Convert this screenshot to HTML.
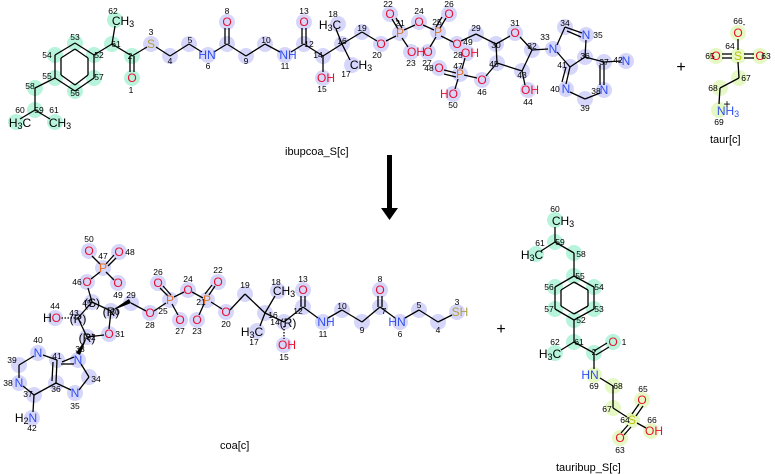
<!DOCTYPE html>
<html><head><meta charset="utf-8"><style>
html,body{margin:0;padding:0;background:#fff}
svg{display:block}
text{font-family:"Liberation Sans","DejaVu Sans",sans-serif}
.a{font-size:12px;text-anchor:middle;dominant-baseline:central}
.n{font-size:8.5px;fill:#000;text-anchor:middle;dominant-baseline:central}
.O{fill:#e8102f}.N{fill:#2f4ff0}.P{fill:#e07020}.S{fill:#b0a040}.Sy{fill:#c0c000}.C{fill:#000}
.b{fill:#d6d6fb}.g{fill:#b8f4dc}.y{fill:#e6f8c4}
line{stroke:#000;stroke-width:1.3}
.lbl{font-size:11px;fill:#000}
</style></head><body>
<svg width="775" height="474" viewBox="0 0 775 474" xmlns="http://www.w3.org/2000/svg">
<!-- highlights top molecule -->
<g class="g">
<circle cx="115" cy="20" r="8"/><circle cx="112" cy="44" r="8"/><circle cx="132" cy="56" r="8"/><circle cx="132" cy="78" r="8"/>
<circle cx="75" cy="43" r="8"/><circle cx="55" cy="55" r="8"/><circle cx="55" cy="78" r="8"/><circle cx="75" cy="91" r="8"/><circle cx="94" cy="78" r="8"/><circle cx="94" cy="55" r="8"/>
<circle cx="35" cy="88" r="8"/><circle cx="35" cy="110" r="8"/><circle cx="16" cy="122" r="8"/><circle cx="55" cy="122" r="8"/>
</g>
<g class="b">
<circle cx="151" cy="44" r="8"/><circle cx="170" cy="56" r="8"/><circle cx="189" cy="44" r="8"/><circle cx="208" cy="55" r="8"/><circle cx="227" cy="44" r="8"/><circle cx="227" cy="22" r="8"/><circle cx="246" cy="56" r="8"/><circle cx="265" cy="44" r="8"/><circle cx="285" cy="55" r="8"/><circle cx="304" cy="44" r="8"/><circle cx="304" cy="22" r="8"/><circle cx="323" cy="56" r="8"/><circle cx="323" cy="78" r="8"/><circle cx="342" cy="44" r="8"/><circle cx="338" cy="24" r="8"/><circle cx="352" cy="65" r="8"/><circle cx="362" cy="32" r="8"/><circle cx="381" cy="44" r="8"/>
<circle cx="390" cy="14" r="8"/><circle cx="400" cy="33" r="8"/><circle cx="419" cy="22" r="8"/><circle cx="438" cy="32" r="8"/><circle cx="449" cy="14" r="8"/><circle cx="411" cy="52" r="8"/><circle cx="428" cy="52" r="8"/><circle cx="457" cy="44" r="8"/><circle cx="476" cy="34" r="8"/><circle cx="496" cy="44" r="8"/><circle cx="515" cy="33" r="8"/><circle cx="532" cy="50" r="8"/><circle cx="497" cy="63" r="8"/><circle cx="522" cy="71" r="8"/><circle cx="528" cy="90" r="8"/><circle cx="482" cy="80" r="8"/><circle cx="460" cy="74" r="8"/><circle cx="439" cy="68" r="8"/><circle cx="467" cy="53" r="8"/><circle cx="453" cy="94" r="8"/>
<circle cx="553" cy="49" r="8"/><circle cx="565" cy="27" r="8"/><circle cx="586" cy="35" r="8"/><circle cx="585" cy="57" r="8"/><circle cx="604" cy="62" r="8"/><circle cx="626" cy="61" r="8"/><circle cx="604" cy="90" r="8"/><circle cx="585" cy="99" r="8"/><circle cx="566" cy="89" r="8"/><circle cx="570" cy="67" r="8"/>
</g>
<g class="y">
<circle cx="738" cy="33" r="8"/><circle cx="738" cy="56" r="8"/><circle cx="716" cy="56" r="8"/><circle cx="760" cy="56" r="8"/><circle cx="739" cy="78" r="8"/><circle cx="720" cy="88" r="8"/><circle cx="719" cy="110" r="8"/>
</g>
<!-- bonds top -->
<g>
<line x1="115" y1="26" x2="112" y2="44"/><line x1="112" y1="44" x2="94" y2="55"/><line x1="112" y1="44" x2="132" y2="56"/>
<line x1="130" y1="56" x2="130" y2="72"/><line x1="134" y1="56" x2="134" y2="72"/>
<line x1="132" y1="56" x2="147" y2="47"/><line x1="156" y1="47" x2="170" y2="56"/><line x1="170" y1="56" x2="189" y2="44"/><line x1="189" y1="44" x2="202" y2="52"/><line x1="214" y1="52" x2="227" y2="44"/>
<line x1="225" y1="44" x2="225" y2="28"/><line x1="229" y1="44" x2="229" y2="28"/>
<line x1="227" y1="44" x2="246" y2="56"/><line x1="246" y1="56" x2="265" y2="44"/><line x1="265" y1="44" x2="280" y2="52"/><line x1="291" y1="52" x2="304" y2="44"/>
<line x1="302" y1="44" x2="302" y2="28"/><line x1="306" y1="44" x2="306" y2="28"/>
<line x1="304" y1="44" x2="323" y2="56"/><line x1="323" y1="56" x2="323" y2="72"/><line x1="323" y1="56" x2="342" y2="44"/>
<line x1="342" y1="44" x2="336" y2="29"/><line x1="342" y1="44" x2="350" y2="60"/><line x1="342" y1="44" x2="362" y2="32"/><line x1="362" y1="32" x2="377" y2="41"/>
<line x1="386" y1="41" x2="396" y2="36"/><line x1="398" y1="29" x2="392" y2="19"/><line x1="402" y1="28" x2="396" y2="18"/>
<line x1="402" y1="38" x2="408" y2="47"/><line x1="404" y1="30" x2="415" y2="25"/><line x1="423" y1="25" x2="434" y2="30"/>
<line x1="440" y1="28" x2="446" y2="18"/><line x1="436" y1="27" x2="442" y2="17"/><line x1="436" y1="37" x2="430" y2="47"/><line x1="441" y1="36" x2="453" y2="42"/>
<line x1="461" y1="41" x2="476" y2="34"/><line x1="476" y1="34" x2="496" y2="44"/><line x1="496" y1="44" x2="510" y2="36"/><line x1="520" y1="37" x2="532" y2="50"/>
<line x1="532" y1="50" x2="522" y2="71"/><line x1="522" y1="71" x2="497" y2="63"/><line x1="497" y1="63" x2="496" y2="44"/><line x1="522" y1="71" x2="525" y2="85"/>
<line x1="497" y1="63" x2="486" y2="76"/><line x1="477" y1="78" x2="464" y2="75"/><line x1="456" y1="73" x2="444" y2="70"/><line x1="456" y1="77" x2="444" y2="74"/>
<line x1="462" y1="69" x2="465" y2="58"/><line x1="458" y1="79" x2="455" y2="89"/>
<line x1="532" y1="50" x2="548" y2="49"/><line x1="557" y1="45" x2="565" y2="27"/><line x1="565" y1="27" x2="582" y2="33"/><line x1="567" y1="31" x2="581" y2="37"/>
<line x1="586" y1="40" x2="585" y2="57"/><line x1="585" y1="57" x2="570" y2="67"/><line x1="570" y1="67" x2="557" y2="52"/>
<line x1="585" y1="57" x2="604" y2="62"/><line x1="604" y1="62" x2="621" y2="61"/><line x1="604" y1="62" x2="604" y2="85"/><line x1="600" y1="65" x2="600" y2="85"/>
<line x1="600" y1="93" x2="585" y2="99"/><line x1="585" y1="99" x2="570" y2="92"/><line x1="566" y1="84" x2="570" y2="67"/><line x1="562" y1="82" x2="566" y2="67"/>
<line x1="75" y1="43" x2="55" y2="55"/><line x1="55" y1="55" x2="55" y2="78"/><line x1="55" y1="78" x2="75" y2="91"/><line x1="75" y1="91" x2="94" y2="78"/><line x1="94" y1="78" x2="94" y2="55"/><line x1="94" y1="55" x2="75" y2="43"/>
<line x1="75" y1="49" x2="61" y2="58"/><line x1="61" y1="58" x2="61" y2="75"/><line x1="61" y1="75" x2="75" y2="85"/><line x1="75" y1="85" x2="88" y2="75"/><line x1="88" y1="75" x2="88" y2="58"/><line x1="88" y1="58" x2="75" y2="49"/>
<line x1="55" y1="78" x2="35" y2="88"/><line x1="35" y1="88" x2="35" y2="110"/><line x1="35" y1="110" x2="20" y2="119"/><line x1="35" y1="110" x2="50" y2="119"/>
<line x1="738" y1="39" x2="738" y2="50"/><line x1="722" y1="54" x2="732" y2="54"/><line x1="722" y1="58" x2="732" y2="58"/><line x1="744" y1="54" x2="754" y2="54"/><line x1="744" y1="58" x2="754" y2="58"/>
<line x1="738" y1="62" x2="739" y2="78"/><line x1="739" y1="78" x2="720" y2="88"/><line x1="720" y1="88" x2="719" y2="104"/>
</g>
<!-- atom labels top -->
<g>
<text class="a C" x="123" y="21">CH<tspan font-size="9" dy="3">3</tspan></text>
<text class="a O" x="132" y="78">O</text><text class="a S" x="151" y="44">S</text>
<text class="a N" x="207" y="55">HN</text><text class="a O" x="227" y="22">O</text><text class="a N" x="288" y="55">NH</text><text class="a O" x="304" y="22">O</text>
<text class="a O" x="326" y="78">OH</text><text class="a C" x="330" y="25">H<tspan font-size="9" dy="3">3</tspan><tspan dy="-3">C</tspan></text>
<text class="a C" x="361" y="65">CH<tspan font-size="9" dy="3">3</tspan></text><text class="a O" x="381" y="44">O</text>
<text class="a O" x="390" y="14">O</text><text class="a P" x="400" y="33">P</text><text class="a O" x="419" y="22">O</text><text class="a P" x="438" y="32">P</text><text class="a O" x="449" y="14">O</text>
<text class="a O" x="416" y="52">OH</text><text class="a O" x="428" y="52">O</text><text class="a O" x="457" y="44">O</text><text class="a O" x="515" y="33">O</text>
<text class="a O" x="530" y="90">OH</text><text class="a O" x="482" y="80">O</text><text class="a P" x="460" y="74">P</text><text class="a O" x="439" y="68">O</text><text class="a O" x="470" y="53">OH</text><text class="a O" x="449" y="94">HO</text>
<text class="a N" x="553" y="49">N</text><text class="a N" x="586" y="35">N</text><text class="a N" x="626" y="61">N</text><text class="a N" x="604" y="90">N</text><text class="a N" x="566" y="89">N</text>
<text class="a C" x="20" y="123">H<tspan font-size="9" dy="3">3</tspan><tspan dy="-3">C</tspan></text><text class="a C" x="60" y="123">CH<tspan font-size="9" dy="3">3</tspan></text>
<text class="a O" x="738" y="33">O</text><text class="a Sy" x="738" y="56">S</text><text class="a O" x="716" y="56">O</text><text class="a O" x="760" y="56">O</text>
<text class="a N" x="728" y="111">NH<tspan font-size="9" dy="3">3</tspan></text><text class="a C" x="727" y="104" font-size="10">+</text><text class="n" x="744" y="24">-</text>
</g>
<g class="n">
<text x="113" y="11">62</text><text x="116" y="44">61</text><text x="130" y="56">2</text><text x="131" y="90">1</text><text x="151" y="32">3</text><text x="170" y="61">4</text><text x="190" y="40">5</text><text x="208" y="66">6</text><text x="227" y="11">8</text><text x="246" y="61">9</text><text x="266" y="40">10</text><text x="285" y="66">11</text><text x="304" y="11">13</text><text x="309" y="44">12</text><text x="318" y="55">14</text><text x="322" y="89">15</text><text x="342" y="41">16</text><text x="333" y="14">18</text><text x="346" y="74">17</text><text x="362" y="28">19</text><text x="377" y="55">20</text>
<text x="388" y="4">22</text><text x="400" y="23">21</text><text x="419" y="11">24</text><text x="437" y="22">25</text><text x="449" y="4">26</text><text x="411" y="63">23</text><text x="427" y="63">27</text><text x="468" y="42">49</text><text x="476" y="28">29</text><text x="496" y="45">30</text><text x="515" y="23">31</text><text x="532" y="46">32</text><text x="494" y="64">45</text><text x="522" y="75">43</text><text x="528" y="102">44</text><text x="482" y="92">46</text><text x="458" y="66">47</text><text x="429" y="68">48</text><text x="458" y="55">28</text><text x="453" y="105">50</text>
<text x="565" y="23">34</text><text x="545" y="37">33</text><text x="598" y="35">35</text><text x="585" y="56">36</text><text x="604" y="62">37</text><text x="618" y="60">42</text><text x="596" y="91">38</text><text x="585" y="108">39</text><text x="555" y="89">40</text><text x="562" y="65">41</text>
<text x="75" y="37">53</text><text x="47" y="55">54</text><text x="47" y="76">55</text><text x="75" y="93">56</text><text x="99" y="77">57</text><text x="99" y="55">52</text><text x="30" y="86">58</text><text x="39" y="110">59</text><text x="20" y="110">60</text><text x="54" y="110">61</text>
<text x="738" y="21">66</text><text x="730" y="46">64</text><text x="710" y="56">65</text><text x="766" y="56">63</text><text x="746" y="78">67</text><text x="713" y="88">68</text><text x="719" y="122">69</text>
</g>
<text x="681" y="72" font-size="16" text-anchor="middle">+</text>
<text class="lbl" x="285" y="155">ibupcoa_S[c]</text>
<text class="lbl" x="710" y="143">taur[c]</text>
<!-- arrow -->
<rect x="387" y="155" width="5" height="54" fill="#000"/>
<polygon points="381,208 398,208 389.5,220" fill="#000"/>

<!-- bottom coa highlights -->
<g class="b">
<circle cx="89" cy="251" r="8"/><circle cx="119" cy="252" r="8"/><circle cx="103" cy="268" r="8"/><circle cx="87" cy="282" r="8"/><circle cx="118" cy="283" r="8"/><circle cx="92" cy="302" r="8"/><circle cx="78" cy="318" r="8"/><circle cx="55" cy="318" r="8"/><circle cx="111" cy="311" r="8"/><circle cx="109" cy="334" r="8"/><circle cx="87" cy="337" r="8"/><circle cx="131" cy="303" r="8"/><circle cx="150" cy="313" r="8"/><circle cx="158" cy="283" r="8"/><circle cx="170" cy="300" r="8"/><circle cx="188" cy="290" r="8"/><circle cx="180" cy="320" r="8"/><circle cx="197" cy="320" r="8"/><circle cx="207" cy="300" r="8"/><circle cx="218" cy="282" r="8"/><circle cx="226" cy="312" r="8"/>
<circle cx="38" cy="353" r="8"/><circle cx="19" cy="365" r="8"/><circle cx="19" cy="383" r="8"/><circle cx="34" cy="395" r="8"/><circle cx="56" cy="383" r="8"/><circle cx="57" cy="360" r="8"/><circle cx="78" cy="360" r="8"/><circle cx="89" cy="377" r="8"/><circle cx="75" cy="393" r="8"/><circle cx="32" cy="418" r="8"/>
<circle cx="245" cy="294" r="8"/><circle cx="265" cy="313" r="8"/><circle cx="284" cy="322" r="8"/><circle cx="278" cy="291" r="8"/><circle cx="257" cy="331" r="8"/><circle cx="284" cy="345" r="8"/><circle cx="303" cy="307" r="8"/><circle cx="303" cy="290" r="8"/><circle cx="323" cy="322" r="8"/><circle cx="342" cy="310" r="8"/><circle cx="362" cy="322" r="8"/><circle cx="380" cy="307" r="8"/><circle cx="380" cy="290" r="8"/><circle cx="400" cy="322" r="8"/><circle cx="419" cy="310" r="8"/><circle cx="438" cy="322" r="8"/><circle cx="457" cy="312" r="8"/>
</g>
<g>
<line x1="92" y1="256" x2="100" y2="264"/><line x1="106" y1="264" x2="114" y2="255"/><line x1="108" y1="266" x2="116" y2="258"/><line x1="106" y1="272" x2="114" y2="280"/><line x1="100" y1="272" x2="91" y2="279"/>
<line x1="88" y1="288" x2="92" y2="302"/><line x1="92" y1="302" x2="78" y2="318"/><line x1="92" y1="302" x2="111" y2="311"/><line x1="111" y1="311" x2="109" y2="329"/><line x1="104" y1="335" x2="87" y2="337"/><line x1="87" y1="337" x2="78" y2="318"/><line x1="78" y1="318" x2="61" y2="318" stroke-dasharray="1.5,1.5" stroke-width="4"/>
<polygon points="111,311 131,303 129,299" fill="#000"/><line x1="131" y1="303" x2="146" y2="311"/><line x1="154" y1="311" x2="166" y2="303"/><line x1="168" y1="296" x2="160" y2="288"/><line x1="171" y1="295" x2="163" y2="286"/><line x1="172" y1="304" x2="178" y2="315"/><line x1="174" y1="297" x2="184" y2="292"/><line x1="192" y1="292" x2="203" y2="298"/><line x1="209" y1="295" x2="215" y2="286"/><line x1="205" y1="294" x2="212" y2="285"/><line x1="204" y1="304" x2="199" y2="315"/><line x1="211" y1="302" x2="222" y2="309"/><line x1="230" y1="310" x2="245" y2="294"/>
<polygon points="87,337 80,355 76,353" fill="#000"/>
<line x1="74" y1="357" x2="62" y2="362"/><line x1="57" y1="360" x2="43" y2="355"/><line x1="34" y1="356" x2="19" y2="365"/><line x1="19" y1="365" x2="19" y2="378"/><line x1="23" y1="386" x2="34" y2="395"/><line x1="34" y1="395" x2="56" y2="383"/><line x1="56" y1="383" x2="57" y2="360"/><line x1="52" y1="381" x2="53" y2="362"/><line x1="56" y1="383" x2="71" y2="390"/><line x1="79" y1="390" x2="89" y2="377"/><line x1="89" y1="377" x2="81" y2="364"/><line x1="61" y1="364" x2="74" y2="364"/><line x1="34" y1="395" x2="33" y2="412"/>
<line x1="245" y1="294" x2="265" y2="313"/><line x1="265" y1="313" x2="275" y2="296"/><line x1="265" y1="313" x2="260" y2="326"/><line x1="265" y1="313" x2="284" y2="322"/><line x1="284" y1="322" x2="303" y2="307"/><line x1="284" y1="326" x2="284" y2="339" stroke-dasharray="1.5,1.5" stroke-width="4"/>
<line x1="301" y1="307" x2="301" y2="296"/><line x1="305" y1="307" x2="305" y2="296"/><line x1="303" y1="307" x2="318" y2="318"/><line x1="328" y1="318" x2="342" y2="310"/><line x1="342" y1="310" x2="362" y2="322"/><line x1="362" y1="322" x2="380" y2="307"/><line x1="378" y1="307" x2="378" y2="296"/><line x1="382" y1="307" x2="382" y2="296"/><line x1="380" y1="307" x2="395" y2="318"/><line x1="405" y1="318" x2="419" y2="310"/><line x1="419" y1="310" x2="438" y2="322"/><line x1="438" y1="322" x2="452" y2="315"/>
</g>
<g>
<text class="a O" x="89" y="251">O</text><text class="a O" x="119" y="252">O</text><text class="a P" x="103" y="268">P</text><text class="a O" x="87" y="282">O</text><text class="a O" x="118" y="283">O</text>
<text class="a C" x="92" y="303" font-size="10">(S)</text><text class="a C" x="78" y="319" font-size="10">(R)</text><text class="a C" x="111" y="312" font-size="10">(R)</text><text class="a C" x="87" y="338" font-size="10">(R)</text>
<text class="a O" x="109" y="334">O</text><text class="a O" x="52" y="318"><tspan class="C">H</tspan>O</text>
<text class="a O" x="150" y="313">O</text><text class="a O" x="158" y="283">O</text><text class="a P" x="170" y="300">P</text><text class="a O" x="188" y="290">O</text><text class="a O" x="180" y="320">O</text><text class="a O" x="197" y="320">O</text><text class="a P" x="207" y="300">P</text><text class="a O" x="218" y="282">O</text><text class="a O" x="226" y="312">O</text>
<text class="a N" x="38" y="353">N</text><text class="a N" x="19" y="383">N</text><text class="a N" x="78" y="360">N</text><text class="a N" x="75" y="393">N</text>
<text class="a N" x="26" y="418"><tspan class="C">H</tspan><tspan class="C" font-size="9" dy="3">2</tspan><tspan dy="-3">N</tspan></text>
<text class="a C" x="284" y="291">CH<tspan font-size="9" dy="3">3</tspan></text><text class="a C" x="252" y="332">H<tspan font-size="9" dy="3">3</tspan><tspan dy="-3">C</tspan></text>
<text class="a C" x="288" y="323" font-size="10">(R)</text><text class="a O" x="287" y="345">OH</text><text class="a O" x="303" y="290">O</text><text class="a N" x="326" y="322">NH</text><text class="a O" x="380" y="290">O</text><text class="a N" x="397" y="322">HN</text><text class="a S" x="460" y="312">SH</text>
</g>
<g class="n">
<text x="89" y="239">50</text><text x="130" y="252">48</text><text x="103" y="256">47</text><text x="77" y="282">46</text><text x="118" y="295">49</text><text x="87" y="303">45</text><text x="74" y="313">43</text><text x="55" y="306">44</text><text x="115" y="312">30</text><text x="120" y="334">31</text><text x="91" y="337">32</text><text x="131" y="295">29</text><text x="150" y="325">28</text><text x="158" y="272">26</text><text x="163" y="311">25</text><text x="188" y="279">24</text><text x="180" y="331">27</text><text x="197" y="331">23</text><text x="201" y="302">21</text><text x="218" y="270">22</text><text x="226" y="324">20</text>
<text x="38" y="340">40</text><text x="12" y="360">39</text><text x="8" y="383">38</text><text x="28" y="394">37</text><text x="56" y="389">36</text><text x="57" y="356">41</text><text x="80" y="349">33</text><text x="96" y="379">34</text><text x="75" y="406">35</text><text x="32" y="428">42</text>
<text x="245" y="285">19</text><text x="273" y="315">16</text><text x="275" y="322">14</text><text x="276" y="282">18</text><text x="254" y="342">17</text><text x="284" y="357">15</text><text x="298" y="311">12</text><text x="303" y="279">13</text><text x="323" y="334">11</text><text x="342" y="306">10</text><text x="362" y="330">9</text><text x="384" y="311">7</text><text x="380" y="279">8</text><text x="400" y="334">6</text><text x="419" y="305">5</text><text x="438" y="330">4</text><text x="457" y="302">3</text>
</g>
<text x="501" y="334" font-size="16" text-anchor="middle">+</text>
<text class="lbl" x="220" y="449">coa[c]</text>

<!-- tauribup -->
<g class="g">
<circle cx="555" cy="220" r="8"/><circle cx="555" cy="242" r="8"/><circle cx="536" cy="254" r="8"/><circle cx="574" cy="253" r="8"/><circle cx="574" cy="276" r="8"/><circle cx="594" cy="287" r="8"/><circle cx="594" cy="309" r="8"/><circle cx="574" cy="320" r="8"/><circle cx="555" cy="309" r="8"/><circle cx="555" cy="287" r="8"/><circle cx="574" cy="342" r="8"/><circle cx="555" cy="353" r="8"/><circle cx="594" cy="353" r="8"/><circle cx="613" cy="342" r="8"/>
</g>
<g class="y">
<circle cx="594" cy="375" r="8"/><circle cx="613" cy="386" r="8"/><circle cx="613" cy="408" r="8"/><circle cx="632" cy="420" r="8"/><circle cx="642" cy="400" r="8"/><circle cx="651" cy="431" r="8"/><circle cx="620" cy="438" r="8"/>
</g>
<g>
<line x1="555" y1="227" x2="555" y2="242"/><line x1="555" y1="242" x2="541" y2="251"/><line x1="555" y1="242" x2="574" y2="253"/><line x1="574" y1="253" x2="574" y2="276"/>
<line x1="574" y1="276" x2="594" y2="287"/><line x1="594" y1="287" x2="594" y2="309"/><line x1="594" y1="309" x2="574" y2="320"/><line x1="574" y1="320" x2="555" y2="309"/><line x1="555" y1="309" x2="555" y2="287"/><line x1="555" y1="287" x2="574" y2="276"/>
<line x1="574" y1="282" x2="588" y2="290"/><line x1="588" y1="290" x2="588" y2="306"/><line x1="588" y1="306" x2="574" y2="314"/><line x1="574" y1="314" x2="561" y2="306"/><line x1="561" y1="306" x2="561" y2="290"/><line x1="561" y1="290" x2="574" y2="282"/>
<line x1="574" y1="320" x2="574" y2="342"/><line x1="574" y1="342" x2="561" y2="350"/><line x1="574" y1="342" x2="594" y2="353"/><line x1="594" y1="351" x2="607" y2="343"/><line x1="596" y1="355" x2="609" y2="347"/><line x1="594" y1="353" x2="594" y2="369"/>
<line x1="600" y1="378" x2="613" y2="386"/><line x1="613" y1="386" x2="613" y2="408"/><line x1="613" y1="408" x2="627" y2="417"/><line x1="632" y1="414" x2="639" y2="404"/><line x1="636" y1="416" x2="643" y2="406"/><line x1="637" y1="423" x2="646" y2="428"/><line x1="628" y1="425" x2="621" y2="433"/><line x1="631" y1="427" x2="624" y2="435"/>
</g>
<g>
<text class="a C" x="563" y="221">CH<tspan font-size="9" dy="3">3</tspan></text><text class="a C" x="532" y="255">H<tspan font-size="9" dy="3">3</tspan><tspan dy="-3">C</tspan></text><text class="a C" x="550" y="354">H<tspan font-size="9" dy="3">3</tspan><tspan dy="-3">C</tspan></text>
<text class="a O" x="613" y="342">O</text><text class="a N" x="590" y="375">HN</text><text class="a Sy" x="632" y="420">S</text><text class="a O" x="642" y="400">O</text><text class="a O" x="654" y="431">OH</text><text class="a O" x="620" y="438">O</text>
</g>
<g class="n">
<text x="555" y="209">60</text><text x="560" y="242">59</text><text x="540" y="243">61</text><text x="581" y="254">58</text><text x="580" y="276">55</text><text x="599" y="287">54</text><text x="599" y="309">53</text><text x="581" y="320">52</text><text x="549" y="309">57</text><text x="549" y="287">56</text><text x="579" y="342">61</text><text x="555" y="342">62</text><text x="594" y="352">2</text><text x="624" y="342">1</text><text x="594" y="386">69</text><text x="618" y="386">68</text><text x="607" y="409">67</text><text x="625" y="420">64</text><text x="643" y="389">65</text><text x="652" y="420">66</text><text x="620" y="450">63</text>
</g>
<text class="lbl" x="556" y="471">tauribup_S[c]</text>
</svg>
</body></html>
